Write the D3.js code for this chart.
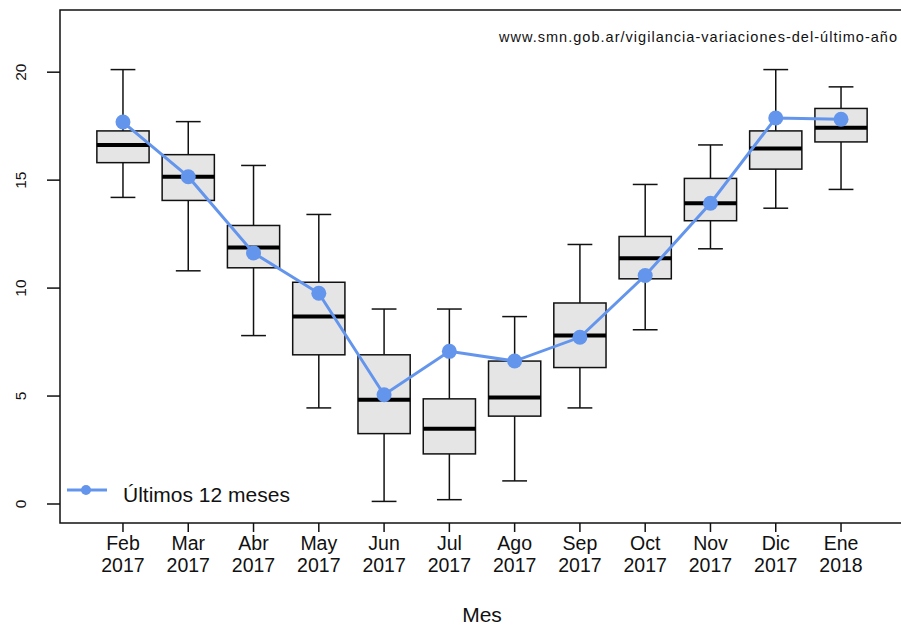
<!DOCTYPE html>
<html>
<head>
<meta charset="utf-8">
<script src="https://cdn.jsdelivr.net/npm/d3@7"></script>
<style>
  body { margin: 0; background: #fff; }
  svg { display: block; font-family: "Liberation Sans", Arial, sans-serif; }
</style>
</head>
<body>
<div id="chart"></div>
<script>
// Month labels (two lines each)
const months = ["Feb", "Mar", "Abr", "May", "Jun", "Jul", "Ago", "Sep", "Oct", "Nov", "Dic", "Ene"];
const years = ["2017", "2017", "2017", "2017", "2017", "2017", "2017", "2017", "2017", "2017", "2017", "2018"];

// Box stats per month (historic)
const lowWhisker = [14.2, 10.8, 7.8, 4.45, 0.12, 0.2, 1.07, 4.45, 8.07, 11.82, 13.7, 14.57];
const q1 = [15.81, 14.06, 10.94, 6.91, 3.26, 2.32, 4.07, 6.32, 10.43, 13.12, 15.51, 16.77];
const median = [16.63, 15.16, 11.88, 8.69, 4.83, 3.48, 4.93, 7.8, 11.38, 13.93, 16.47, 17.43];
const q3 = [17.28, 16.18, 12.9, 10.27, 6.91, 4.87, 6.62, 9.31, 12.39, 15.08, 17.28, 18.32];
const highWhisker = [20.12, 17.71, 15.68, 13.41, 9.03, 9.03, 8.68, 12.02, 14.8, 16.63, 20.12, 19.32];

// Last 12 months values
const last12 = [17.69, 15.16, 11.63, 9.76, 5.06, 7.07, 6.62, 7.72, 10.58, 13.93, 17.88, 17.82];

const yTicks = [0, 5, 10, 15, 20];

const width = 901, height = 625;
const plot = { left: 59, right: 905, top: 10, bottom: 523 };
const blue = "#6495ED";

const svg = d3.select("#chart").append("svg")
  .attr("width", width)
  .attr("height", height);

const x = d3.scaleLinear()
  .domain([0.5 - 0.48, 12.5 + 0.48])
  .range([plot.left, plot.right]);

const y = d3.scaleLinear()
  .domain([-0.88, 22.88])
  .range([plot.bottom, plot.top]);

const data = months.map((m, i) => ({
  pos: i + 1,
  lw: lowWhisker[i], q1: q1[i], med: median[i], q3: q3[i], hw: highWhisker[i],
  val: last12[i]
}));

const boxW = x(0.8) - x(0);
const capW = x(0.38) - x(0);

// Boxes
const g = svg.append("g");
const box = g.selectAll("g.box").data(data).enter().append("g").attr("class", "box");

box.append("line")
  .attr("x1", d => x(d.pos)).attr("x2", d => x(d.pos))
  .attr("y1", d => y(d.hw)).attr("y2", d => y(d.q3))
  .attr("stroke", "#111").attr("stroke-width", 1.5);
box.append("line")
  .attr("x1", d => x(d.pos)).attr("x2", d => x(d.pos))
  .attr("y1", d => y(d.q1)).attr("y2", d => y(d.lw))
  .attr("stroke", "#111").attr("stroke-width", 1.5);
box.append("line")
  .attr("x1", d => x(d.pos) - capW / 2).attr("x2", d => x(d.pos) + capW / 2)
  .attr("y1", d => y(d.hw)).attr("y2", d => y(d.hw))
  .attr("stroke", "#111").attr("stroke-width", 1.5);
box.append("line")
  .attr("x1", d => x(d.pos) - capW / 2).attr("x2", d => x(d.pos) + capW / 2)
  .attr("y1", d => y(d.lw)).attr("y2", d => y(d.lw))
  .attr("stroke", "#111").attr("stroke-width", 1.5);
box.append("rect")
  .attr("x", d => x(d.pos) - boxW / 2)
  .attr("width", boxW)
  .attr("y", d => y(d.q3))
  .attr("height", d => y(d.q1) - y(d.q3))
  .attr("fill", "#e5e5e5")
  .attr("stroke", "#111").attr("stroke-width", 1.5);
box.append("line")
  .attr("x1", d => x(d.pos) - boxW / 2).attr("x2", d => x(d.pos) + boxW / 2)
  .attr("y1", d => y(d.med)).attr("y2", d => y(d.med))
  .attr("stroke", "#000").attr("stroke-width", 4);

// Last 12 months line + points
svg.append("path")
  .datum(data)
  .attr("fill", "none")
  .attr("stroke", blue)
  .attr("stroke-width", 3)
  .attr("d", d3.line().x(d => x(d.pos)).y(d => y(d.val)));

svg.selectAll("circle.pt").data(data).enter().append("circle")
  .attr("class", "pt")
  .attr("cx", d => x(d.pos))
  .attr("cy", d => y(d.val))
  .attr("r", 7.5)
  .attr("fill", blue);

// Frame
svg.append("rect")
  .attr("x", plot.left + 1).attr("y", plot.top)
  .attr("width", plot.right - plot.left).attr("height", plot.bottom - plot.top)
  .attr("fill", "none").attr("stroke", "#111").attr("stroke-width", 1.5);

// Y axis
const yAxis = svg.append("g");
yAxis.selectAll("line").data(yTicks).enter().append("line")
  .attr("x1", 47).attr("x2", plot.left + 1)
  .attr("y1", d => y(d)).attr("y2", d => y(d))
  .attr("stroke", "#111").attr("stroke-width", 1.5);
yAxis.selectAll("text").data(yTicks).enter().append("text")
  .attr("transform", d => `translate(26,${y(d)}) rotate(-90)`)
  .attr("text-anchor", "middle")
  .attr("font-size", 15.5)
  .attr("fill", "#111")
  .text(d => d);

// X axis
const xAxis = svg.append("g");
xAxis.selectAll("line").data(data).enter().append("line")
  .attr("x1", d => x(d.pos)).attr("x2", d => x(d.pos))
  .attr("y1", plot.bottom).attr("y2", plot.bottom + 9)
  .attr("stroke", "#111").attr("stroke-width", 1.5);
const xl = xAxis.selectAll("text").data(data).enter().append("text")
  .attr("text-anchor", "middle")
  .attr("font-size", 19.5)
  .attr("fill", "#111");
xl.append("tspan").attr("x", d => x(d.pos)).attr("y", 550).text((d, i) => months[i]);
xl.append("tspan").attr("x", d => x(d.pos)).attr("y", 572).text((d, i) => years[i]);

svg.append("text")
  .attr("x", (plot.left + plot.right) / 2)
  .attr("y", 622)
  .attr("text-anchor", "middle")
  .attr("font-size", 21)
  .attr("fill", "#111")
  .text("Mes");

// Source text
svg.append("text")
  .attr("x", 499).attr("y", 42)
  .attr("font-size", 14.5)
  .attr("textLength", 398)
  .attr("lengthAdjust", "spacing")
  .attr("fill", "#111")
  .text("www.smn.gob.ar/vigilancia-variaciones-del-último-año");

// Legend
const leg = svg.append("g");
leg.append("line")
  .attr("x1", 67).attr("x2", 107).attr("y1", 490).attr("y2", 490)
  .attr("stroke", blue).attr("stroke-width", 3);
leg.append("circle").attr("cx", 86).attr("cy", 490).attr("r", 5).attr("fill", blue);
leg.append("text")
  .attr("x", 123).attr("y", 502)
  .attr("font-size", 21)
  .attr("fill", "#111")
  .text("Últimos 12 meses");
</script>
</body>
</html>
